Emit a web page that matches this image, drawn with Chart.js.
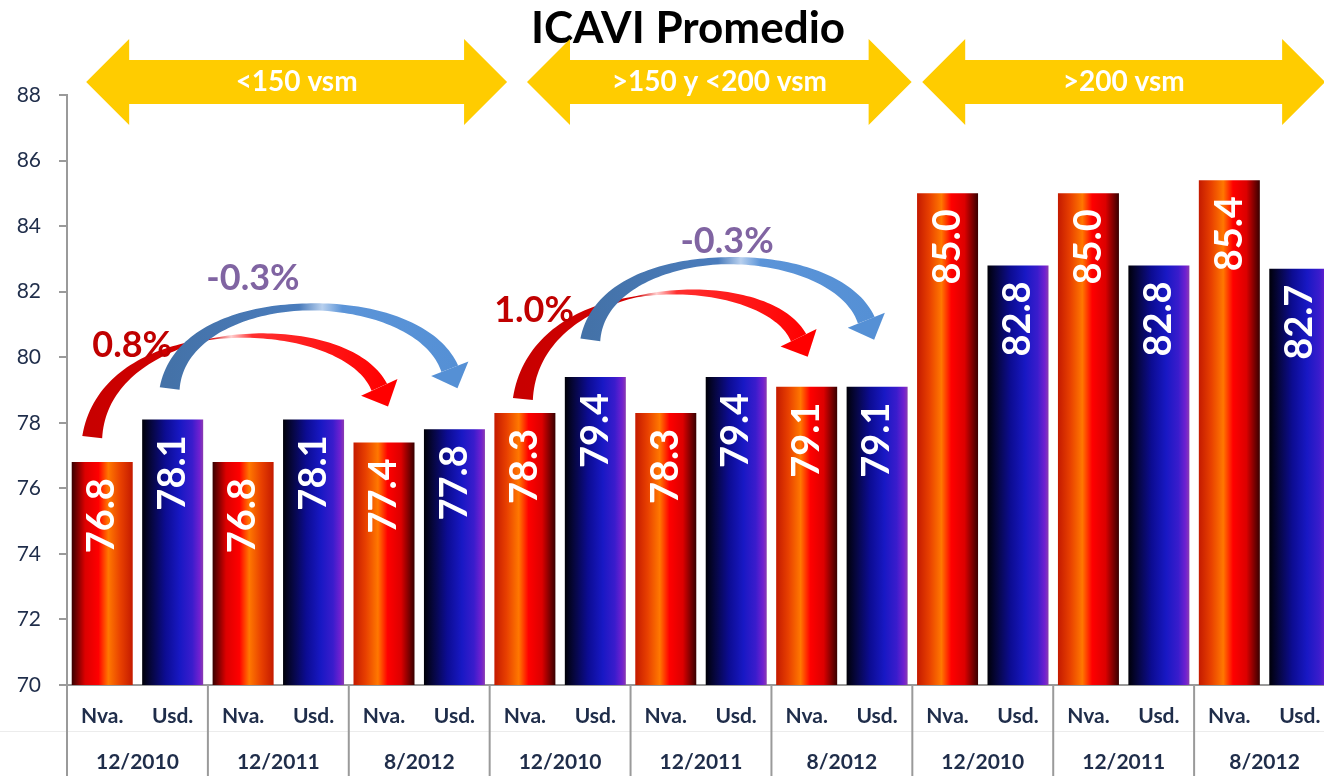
<!DOCTYPE html>
<html>
<head>
<meta charset="utf-8">
<title>ICAVI Promedio</title>
<script src="https://cdn.jsdelivr.net/npm/chart.js@4.4.1/dist/chart.umd.min.js"></script>
<style>
  html, body { margin: 0; padding: 0; background: #fff; overflow: hidden; }
  #wrap { position: absolute; left: 0; top: 0; width: 1376px; height: 776px; }
</style>
</head>
<body>
<div id="wrap"><canvas id="chart" width="1376" height="776"></canvas></div>
<script>
// Datos
const chartTitle = 'ICAVI Promedio';
const ranges = ['<150 vsm', '>150 y <200 vsm', '>200 vsm'];
const periods = ['12/2010', '12/2011', '8/2012'];
const kinds = ['Nva.', 'Usd.'];
const nvaValues = [76.8, 76.8, 77.4, 78.3, 78.3, 79.1, 85.0, 85.0, 85.4];
const usdValues = [78.1, 78.1, 77.8, 79.4, 79.4, 79.1, 82.8, 82.8, 82.7];
const changeLabels = ['0.8%', '-0.3%', '1.0%', '-0.3%'];
const yMin = 70, yMax = 88, yStep = 2;

// Etiquetas y valores intercalados Nva./Usd.
const labels = [];
const values = [];
const dateLabels = [];
nvaValues.forEach((v, i) => {
    labels.push(kinds[0], kinds[1]);
    values.push(v, usdValues[i]);
    dateLabels.push(periods[i % periods.length]);
});

const FONT = 'Lato, "Open Sans", sans-serif';
const TEXT = '#1f2d4a';
const AXIS = '#9a9a9a';
const BAR_PCT = 0.866;
const DARK_LEFT = [0, 2];

// Flechas amarillas (en unidades de categoría)
const bands = [
    { u1: -0.228, u2: 5.747, text: ranges[0] },
    { u1: 6.03, u2: 11.49, text: ranges[1] },
    { u1: 11.64, u2: 17.36, text: ranges[2] },
];

// Flechas curvas entre barras
const arcs = [
    { from: 0, to: 4, red: true, sdx: -10, sdy: 25, tdx: 4, tdy: 36, peak: 80.62, label: changeLabels[0], lu: 0.425, lv: 80.37 },
    { from: 1, to: 5, red: false, sdx: -3, sdy: 31, tdx: 3, tdy: 41, peak: 81.53, label: changeLabels[1], lu: 2.14, lv: 82.39 },
    { from: 6, to: 10, red: true, sdx: -2, sdy: 14, tdx: 1, tdy: 30, peak: 81.93, label: changeLabels[2], lu: 6.13, lv: 81.44 },
    { from: 7, to: 11, red: false, sdx: -5, sdy: 37, tdx: -3, tdy: 47, peak: 82.94, label: changeLabels[3], lu: 8.87, lv: 83.52 },
];

const uToPx = (chart, u) => {
    const x = chart.scales.x;
    const x0 = x.getPixelForValue(0);
    return x0 + u * (x.getPixelForValue(1) - x0);
};

function barFill(ctx) {
    const chart = ctx.chart;
    const xs = chart.scales.x;
    if (!chart.chartArea || !xs) return '#ff0000';
    const i = ctx.dataIndex;
    const cx = xs.getPixelForValue(i);
    const half = (xs.width / labels.length) * BAR_PCT / 2;
    const g = chart.ctx.createLinearGradient(cx - half, 0, cx + half, 0);
    if (i % 2 === 1) {
        g.addColorStop(0, '#000008');
        g.addColorStop(0.15, '#06063e');
        g.addColorStop(0.38, '#0c0c92');
        g.addColorStop(0.62, '#1818c4');
        g.addColorStop(0.82, '#3a1ccc');
        g.addColorStop(0.94, '#7020d0');
        g.addColorStop(1, '#8a3cb0');
        return g;
    }
    const stops = [
        [0, '#c41a00'], [0.2, '#e84000'], [0.4, '#ff7800'],
        [0.56, '#ff0000'], [0.78, '#dc0000'], [1, '#380000'],
    ];
    const flip = DARK_LEFT.includes(i);
    stops.forEach(([o, c]) => g.addColorStop(flip ? 1 - o : o, c));
    return g;
}

// Etiquetas de valor, verticales, dentro de la barra
const valueLabels = {
    id: 'valueLabels',
    afterDatasetsDraw(chart) {
        const c = chart.ctx;
        const meta = chart.getDatasetMeta(0);
        c.save();
        c.font = `bold 38px ${FONT}`;
        c.fillStyle = '#ffffff';
        c.textAlign = 'right';
        c.textBaseline = 'middle';
        meta.data.forEach((bar, i) => {
            c.save();
            c.translate(bar.x, bar.y + 16);
            c.rotate(-Math.PI / 2);
            c.fillText(values[i].toFixed(1), 0, 0);
            c.restore();
        });
        c.restore();
    }
};

function bez(S, P1, P2, B, t) {
    const m = 1 - t;
    return {
        x: m * m * m * S.x + 3 * m * m * t * P1.x + 3 * m * t * t * P2.x + t * t * t * B.x,
        y: m * m * m * S.y + 3 * m * m * t * P1.y + 3 * m * t * t * P2.y + t * t * t * B.y,
        dx: 3 * m * m * (P1.x - S.x) + 6 * m * t * (P2.x - P1.x) + 3 * t * t * (B.x - P2.x),
        dy: 3 * m * m * (P1.y - S.y) + 6 * m * t * (P2.y - P1.y) + 3 * t * t * (B.y - P2.y),
    };
}

function drawArc(chart, a) {
    const c = chart.ctx;
    const xs = chart.scales.x, ys = chart.scales.y;
    const S = { x: xs.getPixelForValue(a.from) + a.sdx, y: ys.getPixelForValue(values[a.from]) - a.sdy };
    const T = { x: xs.getPixelForValue(a.to) + a.tdx, y: ys.getPixelForValue(values[a.to]) - a.tdy };
    const peakY = ys.getPixelForValue(a.peak);
    const headL = 21, headW = 20;
    let dir = { x: 0.3, y: 0.95 };
    let B, P1, P2;
    for (let k = 0; k < 3; k++) {
        B = { x: T.x - dir.x * headL, y: T.y - dir.y * headL };
        const H = (8 * peakY - S.y - B.y) / 6;
        P1 = { x: S.x + 0.05 * (B.x - S.x), y: H };
        P2 = { x: B.x - 0.12 * (B.x - S.x), y: H };
        const l = Math.hypot(B.x - P2.x, B.y - P2.y);
        dir = { x: (B.x - P2.x) / l, y: (B.y - P2.y) / l };
    }
    const w = a.red
        ? { s: 20, m: 1.2, e: 17, tm: 0.45, p: 1 }
        : { s: 20, m: 7, e: 18, tm: 0.5, p: 1.5 };
    const wf = t => t < w.tm
        ? w.m + (w.s - w.m) * Math.pow((w.tm - t) / w.tm, w.p)
        : w.m + (w.e - w.m) * Math.pow((t - w.tm) / (1 - w.tm), w.p);

    const g = c.createLinearGradient(S.x, 0, T.x, 0);
    if (a.red) {
        g.addColorStop(0, '#c80000');
        g.addColorStop(0.4, '#d40000');
        g.addColorStop(0.47, '#ffd0d0');
        g.addColorStop(0.54, '#ff3030');
        g.addColorStop(1, '#ff0000');
    } else {
        g.addColorStop(0, '#4472a8');
        g.addColorStop(0.45, '#4a7cbc');
        g.addColorStop(0.53, '#b8d0ee');
        g.addColorStop(0.6, '#5b94d8');
        g.addColorStop(1, '#5590d5');
    }

    const N = 90, left = [], right = [];
    for (let k = 0; k <= N; k++) {
        const t = k / N;
        const p = bez(S, P1, P2, B, t);
        const len = Math.hypot(p.dx, p.dy) || 1;
        const nx = -p.dy / len, ny = p.dx / len, hw = wf(t) / 2;
        left.push([p.x + nx * hw, p.y + ny * hw]);
        right.push([p.x - nx * hw, p.y - ny * hw]);
    }
    c.save();
    c.fillStyle = g;
    c.beginPath();
    left.forEach(([x, y], k) => (k ? c.lineTo(x, y) : c.moveTo(x, y)));
    for (let k = right.length - 1; k >= 0; k--) c.lineTo(right[k][0], right[k][1]);
    c.closePath();
    c.fill();
    // punta
    const px = -dir.y, py = dir.x;
    c.fillStyle = a.red ? '#ff0000' : '#5590d5';
    c.beginPath();
    c.moveTo(B.x + px * headW, B.y + py * headW);
    c.lineTo(B.x + dir.x * headL, B.y + dir.y * headL);
    c.lineTo(B.x - px * headW, B.y - py * headW);
    c.closePath();
    c.fill();
    c.restore();
}

const overlays = {
    id: 'overlays',
    afterDatasetsDraw(chart) {
        const c = chart.ctx;
        arcs.forEach(a => drawArc(chart, a));
        c.save();
        c.font = `bold 36px ${FONT}`;
        c.textAlign = 'center';
        c.textBaseline = 'middle';
        arcs.forEach(a => {
            c.fillStyle = a.red ? '#c00000' : '#8064a2';
            c.fillText(a.label, uToPx(chart, a.lu), chart.scales.y.getPixelForValue(a.lv));
        });
        c.restore();
    },
    afterDraw(chart) {
        const c = chart.ctx;
        const area = chart.chartArea;
        const ys = chart.scales.y;
        const H = chart.height;

        c.save();
        // Título centrado en el lienzo completo
        c.fillStyle = '#000000';
        c.font = `bold 44px ${FONT}`;
        c.textAlign = 'center';
        c.textBaseline = 'middle';
        c.fillText(chartTitle, chart.width / 2, 29);

        // Flechas amarillas dobles
        const yc = ys.getPixelForValue(88.4);
        const sh = 22, hh = 43, hl = 43;
        bands.forEach(b => {
            const x1 = uToPx(chart, b.u1), x2 = uToPx(chart, b.u2);
            c.fillStyle = '#ffcc00';
            c.beginPath();
            c.moveTo(x1, yc);
            c.lineTo(x1 + hl, yc - hh);
            c.lineTo(x1 + hl, yc - sh);
            c.lineTo(x2 - hl, yc - sh);
            c.lineTo(x2 - hl, yc - hh);
            c.lineTo(x2, yc);
            c.lineTo(x2 - hl, yc + hh);
            c.lineTo(x2 - hl, yc + sh);
            c.lineTo(x1 + hl, yc + sh);
            c.lineTo(x1 + hl, yc + hh);
            c.closePath();
            c.fill();
            c.fillStyle = '#ffffff';
            c.font = `bold 28px ${FONT}`;
            c.fillText(b.text, (x1 + x2) / 2, yc);
        });

        // Separadores y fechas bajo el eje
        c.strokeStyle = '#ececec';
        c.lineWidth = 1;
        c.beginPath();
        c.moveTo(0, area.bottom + 46.5);
        c.lineTo(chart.width, area.bottom + 46.5);
        c.stroke();

        c.strokeStyle = AXIS;
        c.lineWidth = 2;
        for (let k = 0; k <= nvaValues.length; k++) {
            const x = uToPx(chart, 2 * k - 0.5);
            c.beginPath();
            c.moveTo(x, area.bottom);
            c.lineTo(x, H);
            c.stroke();
        }
        c.fillStyle = TEXT;
        c.font = `bold 21px ${FONT}`;
        dateLabels.forEach((d, k) => {
            c.fillText(d, uToPx(chart, 2 * k + 0.5), area.bottom + 77);
        });
        c.restore();
    }
};

new Chart(document.getElementById('chart'), {
    type: 'bar',
    data: {
        labels: labels,
        datasets: [{
            data: values,
            backgroundColor: barFill,
            borderWidth: 0,
            barPercentage: BAR_PCT,
            categoryPercentage: 1,
        }],
    },
    options: {
        responsive: false,
        animation: false,
        devicePixelRatio: 1,
        layout: {
            padding: { left: 0, right: 41, top: 95, bottom: 48 },
        },
        plugins: {
            legend: { display: false },
            tooltip: { enabled: false },
            title: { display: false },
        },
        scales: {
            x: {
                offset: true,
                afterFit: (s) => { s.height = 43; },
                grid: { display: false },
                border: { display: true, color: AXIS, width: 2 },
                ticks: {
                    color: TEXT,
                    font: { family: FONT, size: 21, weight: 'bold' },
                    padding: 11,
                    maxRotation: 0,
                    autoSkip: false,
                },
            },
            y: {
                min: yMin,
                max: yMax,
                afterFit: (s) => { s.width = 67; },
                grid: {
                    drawOnChartArea: false,
                    drawTicks: true,
                    tickLength: 8,
                    color: AXIS,
                    lineWidth: 2,
                },
                border: { color: AXIS, width: 2 },
                ticks: {
                    stepSize: yStep,
                    color: TEXT,
                    font: { family: FONT, size: 21 },
                    padding: 18,
                },
            },
        },
    },
    plugins: [valueLabels, overlays],
});
</script>
</body>
</html>
